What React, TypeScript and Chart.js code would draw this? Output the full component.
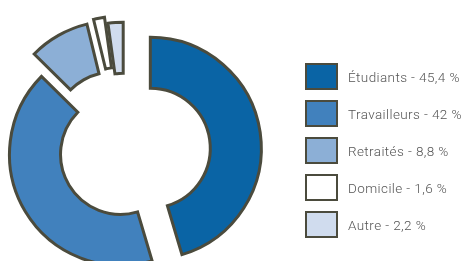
import React, { useEffect, useRef } from "react";
import { Chart, registerables } from "chart.js";

Chart.register(...registerables);

const categories = ["Étudiants", "Travailleurs", "Retraités", "Domicile", "Autre"];
const shares = [45.4, 42, 8.8, 1.6, 2.2];
const sliceColors = ["#0a64a5", "#4181bd", "#8cafd6", "#ffffff", "#d0dcee"];
const explode = [26.1, 4.7, 23, 25.2, 18.8];
const borderColor = "#4b4b3d";

const fmt = (v: number) => String(v).replace(".", ",");

const explodePlugin = {
  id: "explodeSlices",
  afterDatasetsUpdate(chart: any) {
    const meta = chart.getDatasetMeta(0);
    meta.data.forEach((arc: any, i: number) => {
      const d = explode[i] || 0;
      const mid = (arc.startAngle + arc.endAngle) / 2;
      arc.x += Math.cos(mid) * d;
      arc.y += Math.sin(mid) * d;
    });
  },
};

export default function App() {
  const ref = useRef<HTMLCanvasElement | null>(null);
  useEffect(() => {
    if (!ref.current) return;
    const chart = new Chart(ref.current, {
      type: "doughnut",
      data: {
        labels: categories,
        datasets: [
          {
            data: shares,
            backgroundColor: sliceColors,
            borderColor: borderColor,
            borderWidth: 3,
            borderJoinStyle: "miter",
          } as any,
        ],
      },
      options: {
        responsive: false,
        animation: false,
        radius: 111,
        cutout: "54%",
        layout: { padding: { left: 0, right: 213, top: 43, bottom: 0 } },
        plugins: {
          legend: { display: false },
          tooltip: { enabled: false },
        },
      } as any,
      plugins: [explodePlugin],
    });
    return () => chart.destroy();
  }, []);

  return (
    <div style={{ position: "fixed", left: 0, top: 0, width: 462, height: 261, background: "#fff", overflow: "hidden" }}>
      <canvas ref={ref} width={462} height={261} style={{ position: "absolute", left: 0, top: 0, width: 462, height: 261 }} />
      {categories.map((c, i) => (
        <div
          key={c}
          style={{
            position: "absolute",
            left: 305,
            top: 63 + i * 37,
            height: 27,
            display: "flex",
            alignItems: "center",
            whiteSpace: "nowrap",
          }}
        >
          <div
            style={{
              width: 29,
              height: 23,
              background: sliceColors[i],
              border: `2px solid ${borderColor}`,
            }}
          />
          <span
            style={{
              marginLeft: 10,
              fontFamily: "Roboto, 'Liberation Sans', Arial, sans-serif",
              fontWeight: 300,
              fontSize: 13.5,
              letterSpacing: 0.4,
              color: "#555555",
            }}
          >
            {c} - {fmt(shares[i])} %
          </span>
        </div>
      ))}
    </div>
  );
}
